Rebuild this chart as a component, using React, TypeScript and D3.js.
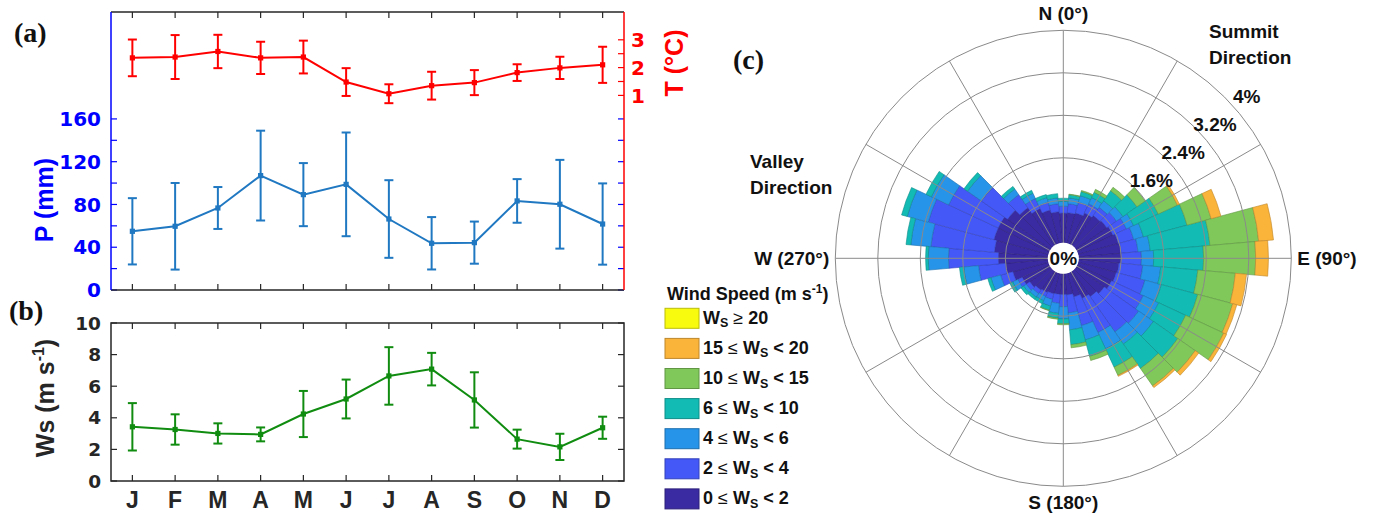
import React from 'react';
import * as d3 from 'd3';

// ---------- Panel (a)/(b) data ----------
const months = ['J', 'F', 'M', 'A', 'M', 'J', 'J', 'A', 'S', 'O', 'N', 'D'];
const precipMean = [54.9, 59.6, 76.7, 107, 89.2, 98.8, 66.4, 43.7, 44.3, 83.3, 80.2, 61.7];
const precipErr = [31, 40.5, 19.6, 42, 29.5, 48.5, 36.3, 24.5, 19.7, 20.4, 41.5, 38];
const tempMean = [2.35, 2.38, 2.58, 2.35, 2.38, 1.48, 1.06, 1.35, 1.46, 1.82, 1.99, 2.1];
const tempErr = [0.66, 0.79, 0.6, 0.58, 0.59, 0.5, 0.34, 0.5, 0.45, 0.3, 0.4, 0.65];
const wsMean = [3.43, 3.26, 3.01, 2.95, 4.24, 5.19, 6.65, 7.08, 5.13, 2.65, 2.16, 3.37];
const wsErr = [1.5, 0.96, 0.64, 0.44, 1.46, 1.23, 1.82, 1.03, 1.75, 0.6, 0.83, 0.7];

const pTicks = [0, 20, 40, 60, 80, 100, 120, 140, 160];
const pTickLabels = [0, 40, 80, 120, 160];
const tTicks = [1, 1.5, 2, 2.5, 3];
const tTickLabels = [1, 2, 3];
const wsTicks = [0, 2, 4, 6, 8, 10];

// ---------- Panel (c) wind rose data (% frequency per 10° sector) ----------
const directions = [0, 10, 20, 30, 40, 50, 60, 70, 80, 90, 100, 110, 120, 130, 140, 150, 160, 170,
  180, 190, 200, 210, 220, 230, 240, 250, 260, 270, 280, 290, 300, 310, 320, 330, 340, 350];
const ws0to2 = [0.56, 0.57, 0.59, 0.65, 0.69, 0.71, 0.74, 0.78, 0.8, 0.8, 0.76, 0.74, 0.71, 0.65, 0.59, 0.54, 0.46, 0.4,
  0.39, 0.39, 0.4, 0.42, 0.44, 0.48, 0.56, 0.69, 0.8, 0.93, 1.01, 1.06, 1.06, 0.99, 0.87, 0.74, 0.65, 0.59];
const ws2to4 = [0.13, 0.17, 0.21, 0.19, 0.19, 0.22, 0.28, 0.3, 0.32, 0.38, 0.45, 0.56, 0.66, 0.79, 0.81, 0.71, 0.56, 0.34,
  0.23, 0.17, 0.11, 0.08, 0.08, 0.08, 0.09, 0.24, 0.51, 0.94, 1.2, 1.28, 1.03, 0.6, 0.3, 0.21, 0.15, 0.15];
const ws4to6 = [0.09, 0.11, 0.13, 0.13, 0.15, 0.15, 0.15, 0.19, 0.23, 0.23, 0.34, 0.32, 0.32, 0.34, 0.28, 0.34, 0.28, 0.32,
  0.23, 0.19, 0.13, 0.09, 0.08, 0.06, 0.11, 0.19, 0.28, 0.38, 0.38, 0.41, 0.36, 0.32, 0.13, 0.11, 0.09, 0.11];
const ws6to10 = [0.06, 0.06, 0.08, 0.11, 0.23, 0.32, 0.51, 0.85, 1.13, 0.94, 0.7, 0.71, 0.56, 0.56, 0.56, 0.38, 0.32, 0.28,
  0.09, 0.09, 0.08, 0.06, 0.05, 0.06, 0.06, 0.06, 0.08, 0.05, 0.09, 0.11, 0.11, 0.08, 0.06, 0.06, 0.06, 0.08];
const ws10to15 = [0, 0.01, 0.02, 0.06, 0.08, 0.19, 0.4, 0.47, 0.92, 0.98, 0.71, 0.68, 0.79, 0.4, 0.4, 0.17, 0.08, 0.06,
  0.02, 0.02, 0.01, 0, 0, 0, 0, 0, 0, 0, 0, 0, 0, 0, 0, 0, 0, 0];
const ws15to20 = [0, 0, 0, 0, 0, 0, 0.04, 0.19, 0.28, 0.24, 0.21, 0.08, 0.06, 0.08, 0.04, 0.02, 0, 0,
  0, 0, 0, 0, 0, 0, 0, 0, 0, 0, 0, 0, 0, 0, 0, 0, 0, 0];
const ws20plus = [0, 0, 0, 0, 0, 0, 0, 0, 0, 0, 0, 0, 0, 0, 0, 0, 0, 0,
  0, 0, 0, 0, 0, 0, 0, 0, 0, 0, 0, 0, 0, 0, 0, 0, 0, 0];

const classKeys = ['c0', 'c1', 'c2', 'c3', 'c4', 'c5', 'c6'];
const classValues = [ws0to2, ws2to4, ws4to6, ws6to10, ws10to15, ws15to20, ws20plus];
const classColors = ['#3b2ba2', '#4458f7', '#2694e8', '#13bbb5', '#80c85a', '#fbb43a', '#f9fb0e'];
const ringValues = [0.8, 1.6, 2.4, 3.2, 4];
const ringLabels = ['1.6%', '2.4%', '3.2%', '4%'];
const spokeAngles = [0, 30, 60, 90, 120, 150, 180, 210, 240, 270, 300, 330];

const SANS = "'Liberation Sans', Arial, Helvetica, sans-serif";
const WIDE = "'DejaVu Sans', Verdana, sans-serif";
const SERIF = "'Liberation Serif', 'Times New Roman', serif";
const AX = '#262626';

function ErrSeries({ means, errs, x, y, color }: any) {
  const line = d3.line<number>().x((_, i) => x(i + 1)).y((d) => y(d));
  return (
    <g>
      <path d={line(means) || ''} fill="none" stroke={color} strokeWidth={2} />
      {means.map((m: number, i: number) => {
        const cx = x(i + 1);
        const y1 = y(m - errs[i]);
        const y2 = y(m + errs[i]);
        return (
          <g key={i} stroke={color} strokeWidth={2}>
            <line x1={cx} x2={cx} y1={y1} y2={y2} />
            <line x1={cx - 4.5} x2={cx + 4.5} y1={y1} y2={y1} />
            <line x1={cx - 4.5} x2={cx + 4.5} y1={y2} y2={y2} />
            <rect x={cx - 2.6} y={y(m) - 2.6} width={5.2} height={5.2} fill={color} stroke="none" />
          </g>
        );
      })}
    </g>
  );
}

export default function App() {
  const x = d3.scaleLinear().domain([0.5, 12.5]).range([111, 624]);
  const yP = d3.scaleLinear().domain([0, 260]).range([290, 12]);
  const yT = d3.scaleLinear().domain([-6, 4]).range([290, 12]);
  const yW = d3.scaleLinear().domain([0, 10]).range([481, 323]);
  const monthIdx = months.map((_, i) => i + 1);
  const [L, R] = x.range();

  // wind rose
  const cx = 1063.3;
  const cy = 258.3;
  const r = d3.scaleLinear().domain([0, 4]).range([15.5, 228]);
  const rows = directions.map((d, i) => {
    const o: any = { dir: d };
    classKeys.forEach((k, j) => (o[k] = classValues[j][i]));
    return o;
  });
  const stacked = d3.stack<any>().keys(classKeys)(rows);
  const arc = d3.arc<any>();
  const rad = (deg: number) => (deg * Math.PI) / 180;

  const legendItems = [
    { c: 6, pre: '', post: '20', sym: '\u2265', first: true },
    { c: 5, pre: '15 ', post: ' < 20', sym: '\u2264', first: false },
    { c: 4, pre: '10 ', post: ' < 15', sym: '\u2264', first: false },
    { c: 3, pre: '6 ', post: ' < 10', sym: '\u2264', first: false },
    { c: 2, pre: '4 ', post: ' < 6', sym: '\u2264', first: false },
    { c: 1, pre: '2 ', post: ' < 4', sym: '\u2264', first: false },
    { c: 0, pre: '0 ', post: ' < 2', sym: '\u2264', first: false },
  ];

  const labelAngle = 48.5;

  return (
    <svg width={1374} height={513} style={{ position: 'absolute', left: 0, top: 0, background: '#fff' }}
      fontFamily={SANS}>
      <rect x={0} y={0} width={1374} height={513} fill="#fff" />

      {/* ---------------- Panel (a) ---------------- */}
      <g>
        {monthIdx.map((m) => (
          <g key={m} stroke={AX} strokeWidth={1.2}>
            <line x1={x(m)} x2={x(m)} y1={12} y2={18} />
            <line x1={x(m)} x2={x(m)} y1={290} y2={284} />
          </g>
        ))}
        {pTicks.map((t) => (
          <g key={t} stroke="#0000ff" strokeWidth={1.2}>
            <line x1={L} x2={L + 6} y1={yP(t)} y2={yP(t)} />
            <line x1={R} x2={R - 6} y1={yP(t)} y2={yP(t)} />
          </g>
        ))}
        {tTicks.map((t) => (
          <line key={t} x1={R} x2={R - 6} y1={yT(t)} y2={yT(t)} stroke="#ff0000" strokeWidth={1.2} />
        ))}
        <line x1={L} x2={R} y1={12} y2={12} stroke={AX} strokeWidth={1.5} />
        <line x1={L} x2={R} y1={290} y2={290} stroke={AX} strokeWidth={1.5} />
        <line x1={L} x2={L} y1={12} y2={290} stroke="#0000ff" strokeWidth={1.5} />
        <line x1={R} x2={R} y1={12} y2={290} stroke="#ff0000" strokeWidth={1.5} />

        {pTickLabels.map((t) => (
          <text key={t} x={101} y={yP(t)} dy="0.36em" textAnchor="end" fontFamily={WIDE} fontSize={20} fontWeight="bold" fill="#0000ff">{t}</text>
        ))}
        {tTickLabels.map((t) => (
          <text key={t} x={631} y={yT(t)} dy="0.36em" textAnchor="start" fontFamily={WIDE} fontSize={20} fontWeight="bold" fill="#ff0000">{t}</text>
        ))}
        <text transform="translate(53,200) rotate(-90)" textAnchor="middle" fontSize={25} fontWeight="bold" fill="#0000ff">P (mm)</text>
        <text transform="translate(683,63) rotate(-90)" textAnchor="middle" fontSize={25} fontWeight="bold" fill="#ff0000">T (°C)</text>
        <text x={14} y={42} fontFamily={SERIF} fontSize={28} fontWeight="bold" fill="#111">(a)</text>

        <ErrSeries means={tempMean} errs={tempErr} x={x} y={yT} color="#ff0000" />
        <ErrSeries means={precipMean} errs={precipErr} x={x} y={yP} color="#1f78c1" />
      </g>

      {/* ---------------- Panel (b) ---------------- */}
      <g>
        {monthIdx.map((m) => (
          <g key={m} stroke={AX} strokeWidth={1.2}>
            <line x1={x(m)} x2={x(m)} y1={323} y2={329} />
            <line x1={x(m)} x2={x(m)} y1={481} y2={475} />
          </g>
        ))}
        {wsTicks.map((t) => (
          <g key={t} stroke={AX} strokeWidth={1.2}>
            <line x1={L} x2={L + 6} y1={yW(t)} y2={yW(t)} />
            <line x1={R} x2={R - 6} y1={yW(t)} y2={yW(t)} />
          </g>
        ))}
        <rect x={L} y={323} width={R - L} height={158} fill="none" stroke={AX} strokeWidth={1.5} />
        {wsTicks.map((t) => (
          <text key={t} x={101} y={yW(t)} dy="0.36em" textAnchor="end" fontFamily={WIDE} fontSize={18.5} fontWeight="bold" fill={AX}>{t}</text>
        ))}
        {months.map((m, i) => (
          <text key={i} x={x(i + 1)} y={508} textAnchor="middle" fontSize={23} fontWeight="bold" fill={AX}>{m}</text>
        ))}
        <text transform="translate(54,398) rotate(-90)" textAnchor="middle" fontSize={25} fontWeight="bold" fill={AX}>
          Ws (m s<tspan dy={-10} fontSize={16}>-1</tspan><tspan dy={10}>)</tspan>
        </text>
        <text x={9} y={320} fontFamily={SERIF} fontSize={28} fontWeight="bold" fill="#111">(b)</text>
        <ErrSeries means={wsMean} errs={wsErr} x={x} y={yW} color="#108c10" />
      </g>

      {/* ---------------- Panel (c) ---------------- */}
      <g transform={`translate(${cx},${cy})`}>
        {stacked.map((layer, li) => (
          <g key={li}>
            {layer.map((seg: any, i: number) => {
              if (seg[1] - seg[0] <= 0) return null;
              const dir = seg.data.dir;
              const fill = classColors[li];
              return (
                <path key={i}
                  d={arc({ innerRadius: r(seg[0]), outerRadius: r(seg[1]), startAngle: rad(dir - 5), endAngle: rad(dir + 5) }) || ''}
                  fill={fill} stroke={d3.color(fill)!.darker(0.8).formatHex()} strokeWidth={0.6} />
              );
            })}
          </g>
        ))}
        {ringValues.map((v) => (
          <circle key={v} r={r(v)} fill="none" stroke="#8a8a8a" strokeWidth={1} />
        ))}
        {spokeAngles.map((a) => (
          <line key={a} x1={0} y1={0} x2={r(4) * Math.sin(rad(a))} y2={-r(4) * Math.cos(rad(a))} stroke="#8a8a8a" strokeWidth={1} />
        ))}
        <circle r={r(0)} fill="#fff" />
        <text x={0} y={0} dy="0.36em" textAnchor="middle" fontSize={19} fontWeight="bold" fill="#111">0%</text>
        {ringLabels.map((lab, i) => {
          const rr = r(ringValues[i + 1]) + 17;
          return (
            <text key={lab} x={rr * Math.sin(rad(labelAngle))} y={-rr * Math.cos(rad(labelAngle))} dy="0.36em"
              textAnchor="middle" fontSize={19} fontWeight="bold" fill="#111">{lab}</text>
          );
        })}
        <text x={0} y={-r(4) - 10} textAnchor="middle" fontSize={19} fontWeight="bold" fill="#111">N (0°)</text>
        <text x={0} y={r(4) + 23} textAnchor="middle" fontSize={19} fontWeight="bold" fill="#111">S (180°)</text>
        <text x={r(4) + 6} y={0} dy="0.36em" textAnchor="start" fontSize={19} fontWeight="bold" fill="#111">E (90°)</text>
        <text x={-r(4) - 6} y={0} dy="0.36em" textAnchor="end" fontSize={19} fontWeight="bold" fill="#111">W (270°)</text>
      </g>
      <text x={1209} y={38} fontSize={19} fontWeight="bold" fill="#111">Summit</text>
      <text x={1209} y={64} fontSize={19} fontWeight="bold" fill="#111">Direction</text>
      <text x={750} y={168} fontSize={19} fontWeight="bold" fill="#111">Valley</text>
      <text x={750} y={194} fontSize={19} fontWeight="bold" fill="#111">Direction</text>
      <text x={733} y={69} fontFamily={SERIF} fontSize={28} fontWeight="bold" fill="#111">(c)</text>

      {/* legend */}
      <text x={667} y={300} fontSize={18} fontWeight="bold" fill="#111">
        Wind Speed (m s<tspan dy={-7} fontSize={12}>-1</tspan><tspan dy={7}>)</tspan>
      </text>
      {legendItems.map((it, i) => {
        const top = 308.3 + i * 30.1;
        const fill = classColors[it.c];
        const ty = top + 15.5;
        return (
          <g key={i}>
            <rect x={665} y={top} width={34} height={20} fill={fill} stroke={d3.color(fill)!.darker(0.8).formatHex()} strokeWidth={1} />
            {it.first ? (
              <text x={703} y={ty} fontSize={18} fontWeight="bold" fill="#111">
                W<tspan dy={3.5} fontSize={12.5}>S</tspan>
                <tspan dy={-3.5}> </tspan>
                <tspan fontWeight="normal">{it.sym}</tspan>
                <tspan> {it.post}</tspan>
              </text>
            ) : (
              <text x={703} y={ty} fontSize={18} fontWeight="bold" fill="#111">
                {it.pre}
                <tspan fontWeight="normal">{it.sym}</tspan>
                <tspan> W</tspan>
                <tspan dy={3.5} fontSize={12.5}>S</tspan>
                <tspan dy={-3.5}>{it.post}</tspan>
              </text>
            )}
          </g>
        );
      })}
    </svg>
  );
}
